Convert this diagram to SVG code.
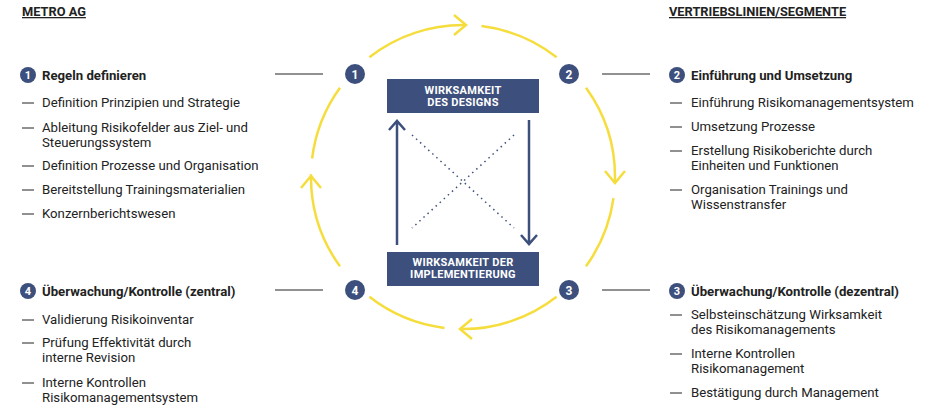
<svg xmlns="http://www.w3.org/2000/svg" width="940" height="407" viewBox="0 0 940 407">
<style>
.t{font-family:Roboto,"Liberation Sans",sans-serif;font-size:13.2px;fill:#222}
.b{font-weight:bold;font-size:13.2px}
.h{font-weight:bold;font-size:12.8px;text-decoration:underline}
.w{font-family:Roboto,"Liberation Sans",sans-serif;font-size:11px;font-weight:bold;fill:#fff;text-anchor:middle;letter-spacing:0.3px}
.n{font-family:Roboto,"Liberation Sans",sans-serif;font-size:12px;font-weight:bold;fill:#fff;text-anchor:middle}
.y{fill:none;stroke:#f6dd3e;stroke-width:2.5}
.k{stroke:#222;stroke-width:1}
.bl{fill:#3d4f7c}
.a{stroke:#3d4f7c;stroke-width:2.5;fill:none}
.d{stroke:#3d4f7c;stroke-width:1.5;stroke-dasharray:1.5 4}
</style>
<g id="connectors">
<path class="y" d="M369.4,57.2 A152,152 0 0 1 465.7,25 M481.5,26.1 A152,152 0 0 1 556.6,57.2 M586,87.7 A152,152 0 0 1 614.9,182.3 M613.5,198.2 A152,152 0 0 1 586,266.3 M556.6,296.8 A152,152 0 0 1 460.3,329 M444.5,327.9 A152,152 0 0 1 369.4,296.8 M340,266.3 A152,152 0 0 1 311,174.3 M312.1,158.5 A152,152 0 0 1 340,87.7"/>
<path class="y" d="M454,15 L466,25 L454,35 M605,171 L615,183 L625,171 M472,319 L460,329 L472,339 M301,188 L311,176 L321,188"/>
<path class="k" d="M275,74H323M602,74H650M275,290H323M602,290H650"/>
<path class="a" d="M397,245V121M389,130L397,121L405,130M529,120V244M521,235L529,244L537,235"/>
<path class="d" d="M412,135L514,228M514,135L412,228"/>
</g>
<g id="n1"><circle class="bl" cx="355" cy="74" r="10"/><text class="n" x="355" y="78.5">1</text></g>
<g id="n2"><circle class="bl" cx="569" cy="74" r="10"/><text class="n" x="569" y="78.5">2</text></g>
<g id="n3"><circle class="bl" cx="569" cy="290" r="10"/><text class="n" x="569" y="294.5">3</text></g>
<g id="n4"><circle class="bl" cx="355" cy="290" r="10"/><text class="n" x="355" y="294.5">4</text></g>
<g id="design"><rect class="bl" x="387" y="79" width="152" height="34"/><text class="w" x="463" y="94">WIRKSAMKEIT</text><text class="w" x="463" y="106">DES DESIGNS</text></g>
<g id="impl"><rect class="bl" x="387" y="252" width="152" height="34"/><text class="w" x="463" y="266">WIRKSAMKEIT DER</text><text class="w" x="463" y="278">IMPLEMENTIERUNG</text></g>
<g id="metro">
<text class="t h" x="22" y="16">METRO AG</text>
<circle class="bl" cx="28" cy="75" r="8"/><text class="n" x="28" y="79" style="font-size:11px">1</text>
<text class="t b" x="42" y="80">Regeln definieren</text>
<path class="k" d="M22,103H34M22,128H34M22,166H34M22,190H34M22,214H34"/>
<text class="t" x="42" y="107">Definition Prinzipien und Strategie</text>
<text class="t" x="42" y="132">Ableitung Risikofelder aus Ziel- und</text>
<text class="t" x="42" y="147">Steuerungssystem</text>
<text class="t" x="42" y="170">Definition Prozesse und Organisation</text>
<text class="t" x="42" y="194">Bereitstellung Trainingsmaterialien</text>
<text class="t" x="42" y="218">Konzernberichtswesen</text>
<circle class="bl" cx="28" cy="291" r="8"/><text class="n" x="28" y="295" style="font-size:11px">4</text>
<text class="t b" x="42" y="296">Überwachung/Kontrolle (zentral)</text>
<path class="k" d="M22,320H34M22,343H34M22,383H34"/>
<text class="t" x="42" y="324">Validierung Risikoinventar</text>
<text class="t" x="42" y="347">Prüfung Effektivität durch</text>
<text class="t" x="42" y="362">interne Revision</text>
<text class="t" x="42" y="387">Interne Kontrollen</text>
<text class="t" x="42" y="402">Risikomanagementsystem</text>
</g>
<g id="vertrieb">
<text class="t h" x="669" y="16">VERTRIEBSLINIEN/SEGMENTE</text>
<circle class="bl" cx="677" cy="75" r="8"/><text class="n" x="677" y="79" style="font-size:11px">2</text>
<text class="t b" x="691" y="80">Einführung und Umsetzung</text>
<path class="k" d="M670,103H682M670,127H682M670,151H682M670,190H682"/>
<text class="t" x="691" y="107">Einführung Risikomanagementsystem</text>
<text class="t" x="691" y="131">Umsetzung Prozesse</text>
<text class="t" x="691" y="155">Erstellung Risikoberichte durch</text>
<text class="t" x="691" y="170">Einheiten und Funktionen</text>
<text class="t" x="691" y="194">Organisation Trainings und</text>
<text class="t" x="691" y="209">Wissenstransfer</text>
<circle class="bl" cx="677" cy="291" r="8"/><text class="n" x="677" y="295" style="font-size:11px">3</text>
<text class="t b" x="691" y="296">Überwachung/Kontrolle (dezentral)</text>
<path class="k" d="M670,315H682M670,354H682M670,393H682"/>
<text class="t" x="691" y="319">Selbsteinschätzung Wirksamkeit</text>
<text class="t" x="691" y="334">des Risikomanagements</text>
<text class="t" x="691" y="358">Interne Kontrollen</text>
<text class="t" x="691" y="373">Risikomanagement</text>
<text class="t" x="691" y="397">Bestätigung durch Management</text>
</g>
</svg>
